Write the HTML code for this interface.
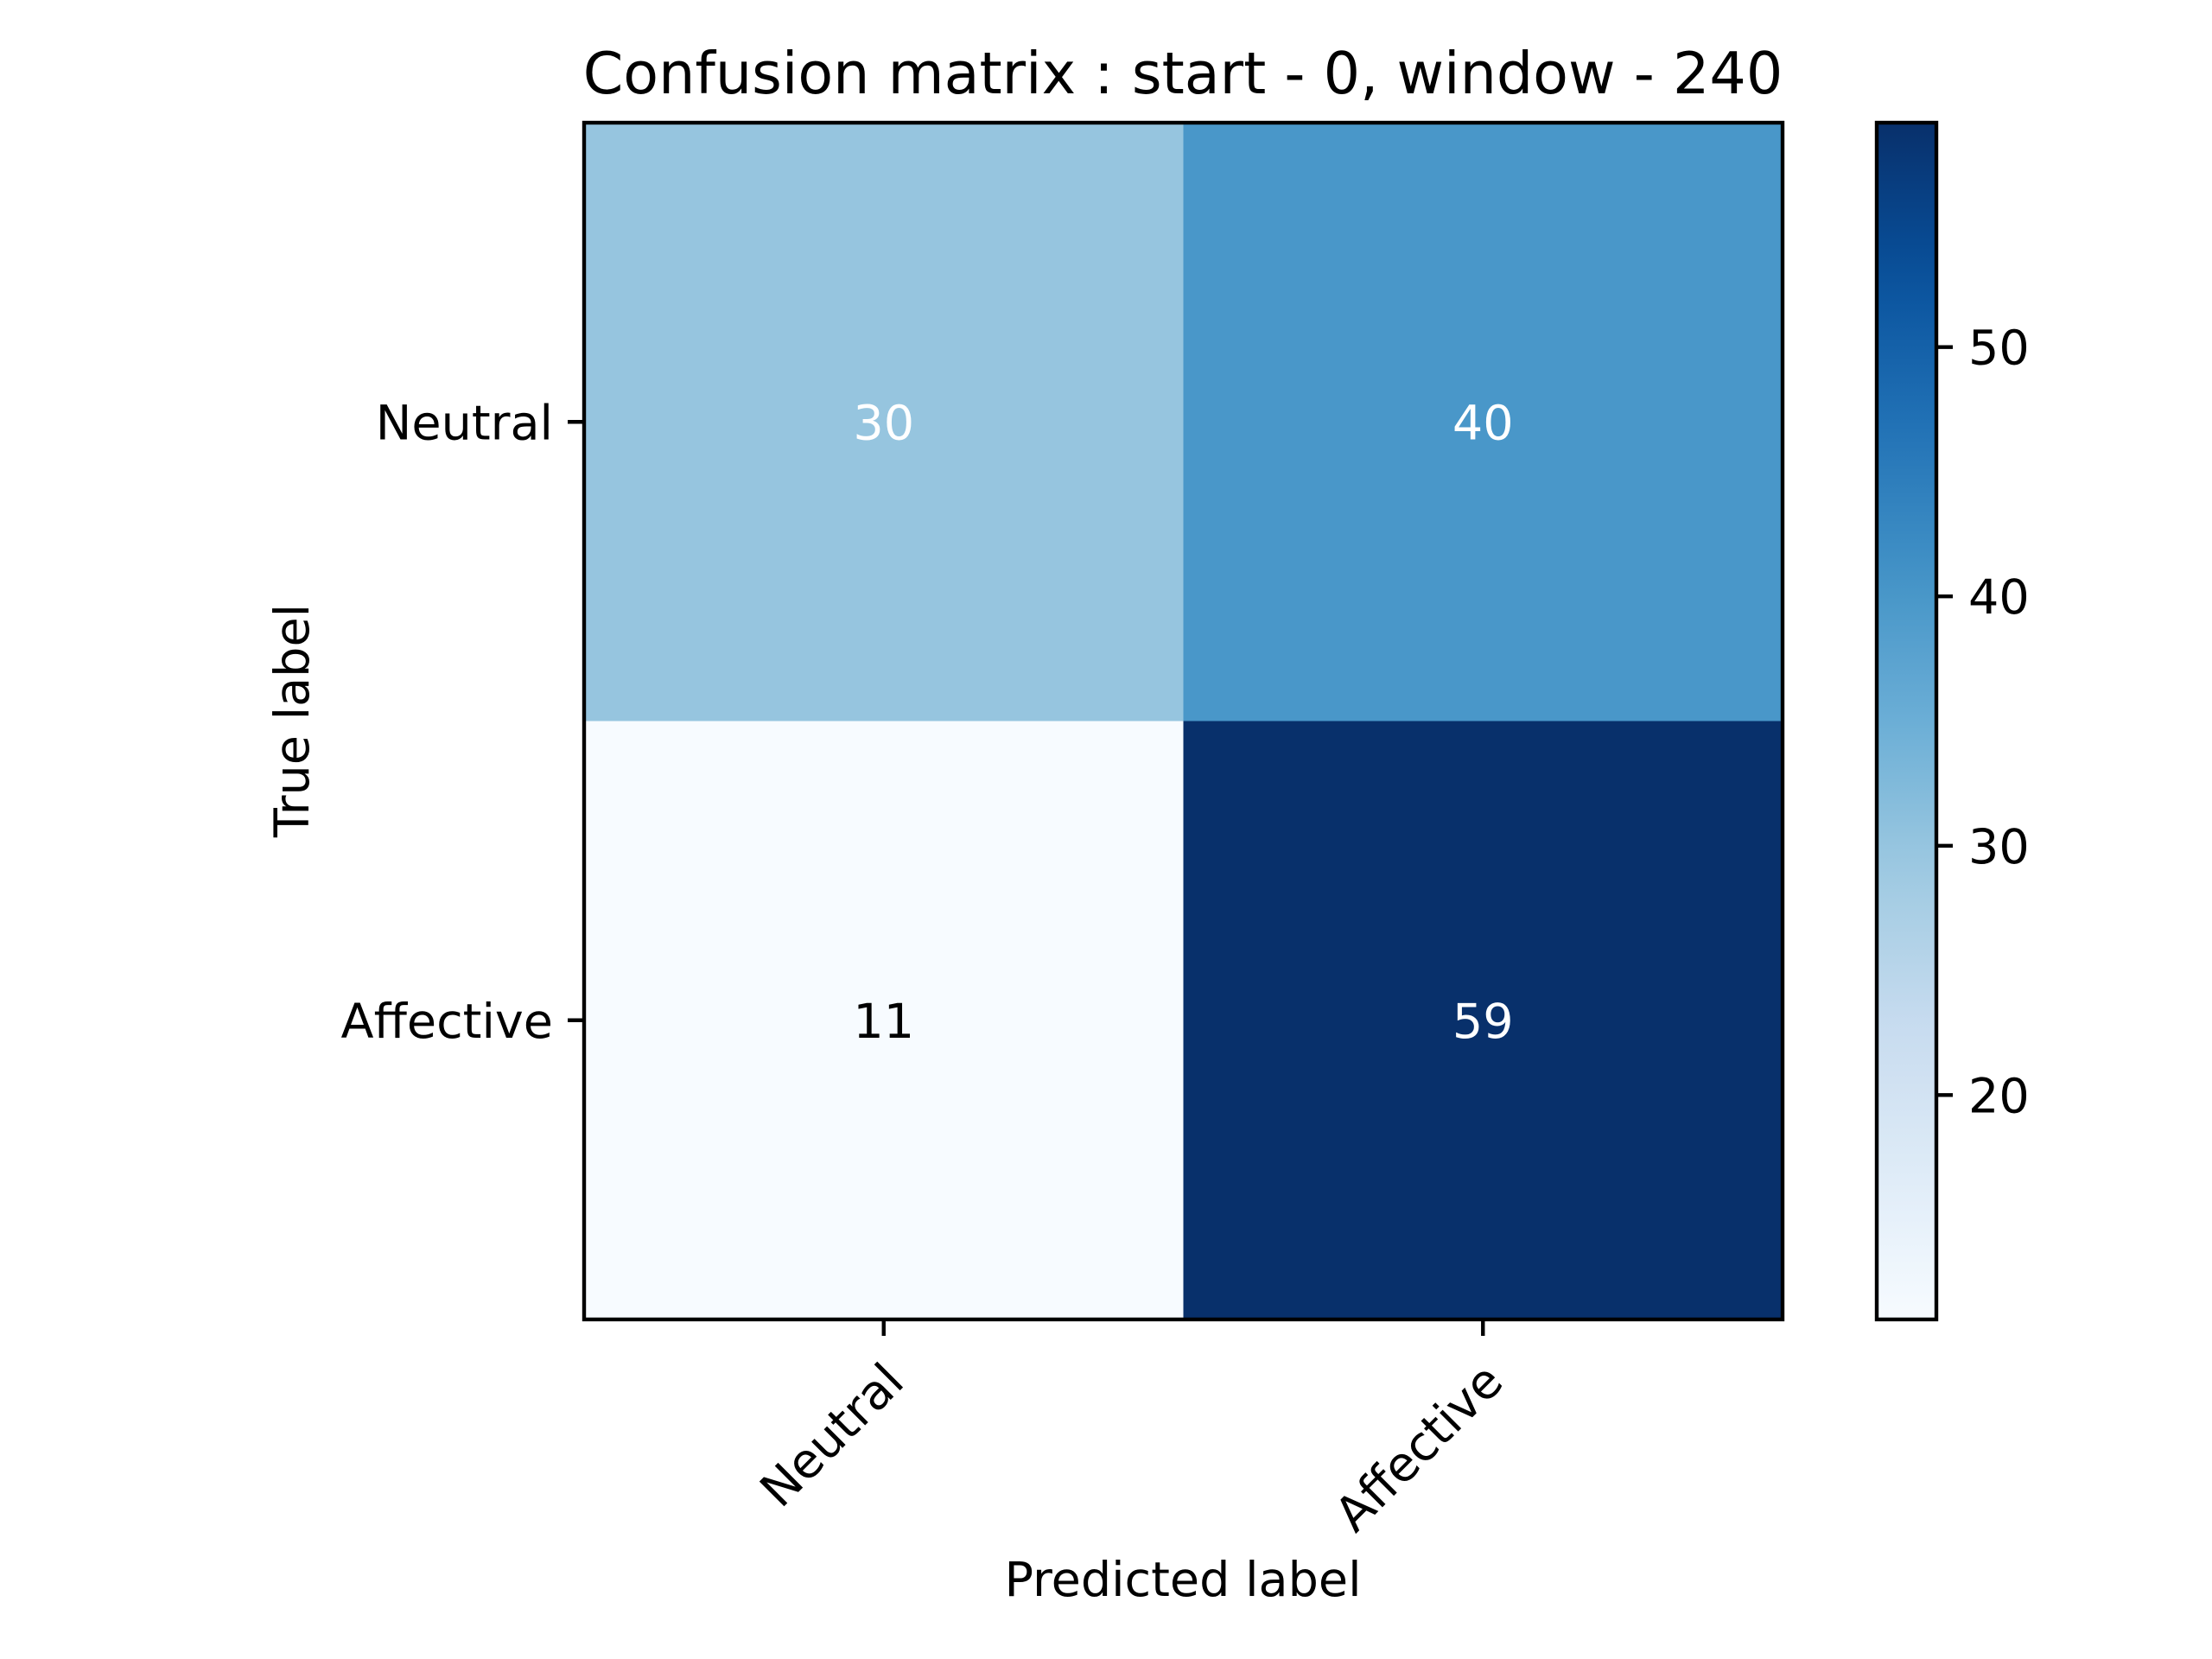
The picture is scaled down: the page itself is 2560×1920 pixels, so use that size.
<!DOCTYPE html>
<html><head><meta charset="utf-8"><style>
html,body{margin:0;padding:0;background:#fff}
svg{display:block;font-family:"DejaVu Sans","Liberation Sans",sans-serif}
</style></head><body>
<svg id="chart" width="2560" height="1920" viewBox="0 0 2560 1920">
<defs><linearGradient id="cbgrad" x1="0" y1="1" x2="0" y2="0"></linearGradient></defs>
<g id="cells"></g>
<g id="annots"></g>
<rect x="676" y="142" width="1387" height="1385" fill="none" stroke="#000" stroke-width="4.4"/>
<g id="xticks"></g>
<g id="yticks"></g>
<rect id="cbrect" x="2172" y="142" width="69" height="1385" fill="url(#cbgrad)"/>
<rect x="2172" y="142" width="69" height="1385" fill="none" stroke="#000" stroke-width="4.4"/>
<g id="cbticks"></g>
<text x="1369" y="108" font-size="66.7" text-anchor="middle">Confusion matrix : start - 0, window - 240</text>
<text x="1369" y="1847" font-size="55.6" text-anchor="middle">Predicted label</text>
<text transform="translate(357,834) rotate(-90)" font-size="55.6" text-anchor="middle">True label</text>
</svg>
<script>
const classes = ["Neutral", "Affective"];
const matrixRow0 = [30, 40];
const matrixRow1 = [11, 59];
const cbTicks = [20, 30, 40, 50];

const matrix = [matrixRow0, matrixRow1];
const NS = "http://www.w3.org/2000/svg";
const AX = {x0: 676, y0: 142, w: 1387, h: 1385};
const CB = {x0: 2172, x1: 2241, y0: 142, y1: 1527};
const all = matrix.flat();
const vmin = Math.min(...all), vmax = Math.max(...all);
const blues = ["#f7fbff","#deebf7","#c6dbef","#9ecae1","#6baed6","#4292c6","#2171b5","#08519c","#08306b"];
function hex(c){return [1,3,5].map(i=>parseInt(c.substr(i,2),16));}
function cmap(t){
  t=Math.max(0,Math.min(1,t));
  const p=t*(blues.length-1), i=Math.min(Math.floor(p),blues.length-2), f=p-i;
  const a=hex(blues[i]), b=hex(blues[i+1]);
  return "rgb("+a.map((v,k)=>Math.round(v+(b[k]-v)*f)).join(",")+")";
}
const n = classes.length;
const cw = AX.w/n, ch = AX.h/n;
function xPos(j){return AX.x0 + (j+0.5)*cw;}
function yPos(i){return AX.y0 + (i+0.5)*ch;}
function cbY(v){return CB.y1 - (v-vmin)/(vmax-vmin)*(CB.y1-CB.y0);}
function mk(tag, attrs, parent, txt){
  const e=document.createElementNS(NS,tag);
  for(const k in attrs) e.setAttribute(k, attrs[k]);
  if(txt!==undefined) e.textContent=txt;
  parent.appendChild(e); return e;
}
const cells=document.getElementById("cells"), annots=document.getElementById("annots");
const thresh = vmax/2;
for(let i=0;i<n;i++) for(let j=0;j<n;j++){
  const v=matrix[i][j];
  const r=mk("rect",{x:xPos(j)-cw/2,y:yPos(i)-ch/2,width:cw+0.5,height:ch+0.5,fill:cmap((v-vmin)/(vmax-vmin))},cells);
  
  
  const t=mk("text",{x:xPos(j),y:yPos(i)+20,"font-size":55.6,"text-anchor":"middle",fill:v>thresh?"#fff":"#000"},annots,String(v));
  
  
}
const xt=document.getElementById("xticks"), yt=document.getElementById("yticks");
classes.forEach((c,j)=>{
  const x=xPos(j);
  const l=mk("line",{x1:x,y1:1527,x2:x,y2:1546,stroke:"#000","stroke-width":4.4},xt);
  
  
  const t=mk("text",{transform:"translate("+(x+26)+",1602) rotate(-45)","font-size":55.6,"text-anchor":"end"},xt,c);
  
  
});
classes.forEach((c,i)=>{
  const y=yPos(i);
  const l=mk("line",{x1:657,y1:y,x2:676,y2:y,stroke:"#000","stroke-width":4.4},yt);
  
  
  const t=mk("text",{x:640,y:y+20,"font-size":55.6,"text-anchor":"end"},yt,c);
  
  
});
const grad=document.getElementById("cbgrad");
for(let k=0;k<=20;k++){ mk("stop",{offset:(k/20),"stop-color":cmap(k/20)},grad); }
const cbt=document.getElementById("cbticks");
cbTicks.forEach(v=>{
  const y=cbY(v);
  const l=mk("line",{x1:2241,y1:y,x2:2260,y2:y,stroke:"#000","stroke-width":4.4},cbt);
  
  
  const t=mk("text",{x:2278,y:y+20,"font-size":55.6},cbt,String(v));
  
  
});
</script>
</body></html>
